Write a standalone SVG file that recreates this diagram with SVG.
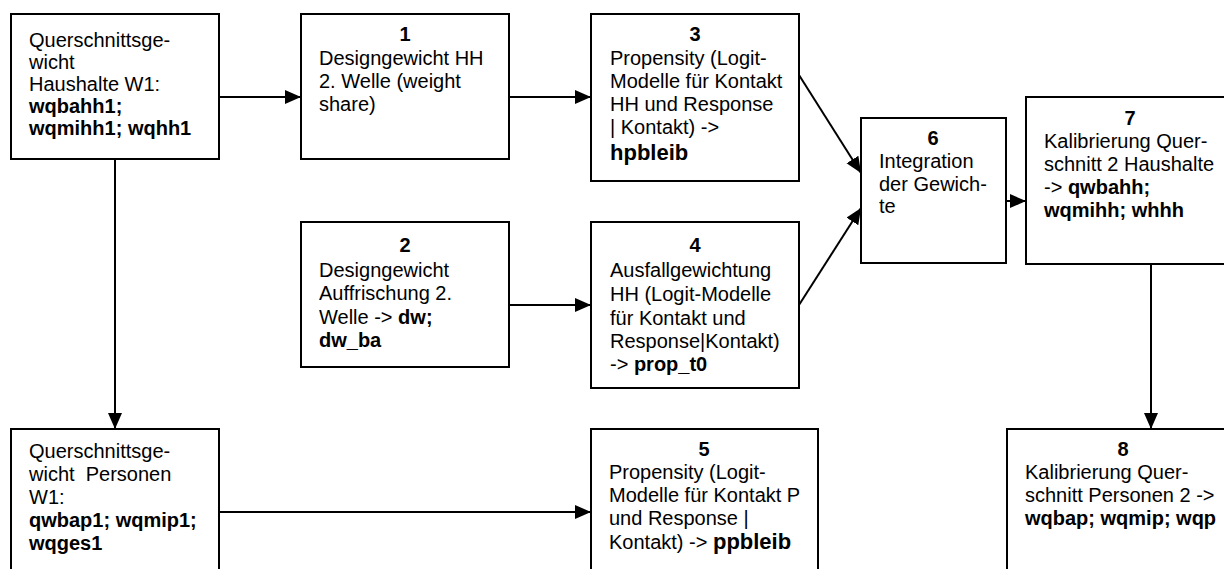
<svg xmlns="http://www.w3.org/2000/svg" width="1224" height="569" viewBox="0 0 1224 569">
<style>
.box{fill:#fff;stroke:#000;stroke-width:2}
text{font-family:"Liberation Sans",Arial,sans-serif;font-size:20px;fill:#000}
.n{font-weight:bold;text-anchor:middle}
.b{font-weight:bold}
.bb{font-weight:bold;font-size:22px}
.c{stroke:#000;stroke-width:2;fill:none;marker-end:url(#ah)}
</style>
<defs>
<marker id="ah" markerUnits="userSpaceOnUse" markerWidth="17" markerHeight="15" refX="16" refY="7" orient="auto">
<path d="M0,0 L16,7 L0,14 z" fill="#000"/>
</marker>
</defs>
<rect width="1224" height="569" fill="#fff"/>
<g id="connectors">
<line class="c" x1="219" y1="97" x2="301" y2="97"/>
<line class="c" x1="509" y1="97" x2="591" y2="97"/>
<line class="c" x1="799" y1="75" x2="861" y2="173"/>
<line class="c" x1="509" y1="305" x2="591" y2="305"/>
<line class="c" x1="799" y1="305" x2="861" y2="208"/>
<line class="c" x1="1006" y1="201" x2="1026" y2="201"/>
<line class="c" x1="115" y1="159" x2="115" y2="429"/>
<line class="c" x1="219" y1="512" x2="591" y2="512"/>
<line class="c" x1="1151" y1="264" x2="1151" y2="429"/>
</g>
<g id="nodeA">
<rect class="box" x="11" y="14" width="208" height="145"/>
<text x="29" y="47">Querschnittsge-</text>
<text x="29" y="69">wicht</text>
<text x="29" y="91">Haushalte W1:</text>
<text x="29" y="113" class="b">wqbahh1;</text>
<text x="29" y="135" class="b">wqmihh1; wqhh1</text>
</g>
<g id="node1">
<rect class="box" x="301" y="14" width="208" height="145"/>
<text x="405" y="41" class="n">1</text>
<text x="319" y="65">Designgewicht HH</text>
<text x="319" y="88">2. Welle (weight</text>
<text x="319" y="111">share)</text>
</g>
<g id="node3">
<rect class="box" x="591" y="14" width="208" height="167"/>
<text x="695" y="41" class="n">3</text>
<text x="610" y="65">Propensity (Logit-</text>
<text x="610" y="88">Modelle für Kontakt</text>
<text x="610" y="111">HH und Response</text>
<text x="610" y="134">| Kontakt) -&gt;</text>
<text x="610" y="160" class="bb">hpbleib</text>
</g>
<g id="node2">
<rect class="box" x="301" y="222" width="208" height="145"/>
<text x="405" y="252" class="n">2</text>
<text x="319" y="277">Designgewicht</text>
<text x="319" y="300">Auffrischung 2.</text>
<text x="319" y="324">Welle -&gt; <tspan class="b">dw;</tspan></text>
<text x="319" y="347" class="b">dw_ba</text>
</g>
<g id="node4">
<rect class="box" x="591" y="222" width="208" height="166"/>
<text x="695" y="252" class="n">4</text>
<text x="610" y="277">Ausfallgewichtung</text>
<text x="610" y="301">HH (Logit-Modelle</text>
<text x="610" y="325">für Kontakt und</text>
<text x="610" y="348">Response|Kontakt)</text>
<text x="610" y="371">-&gt; <tspan class="b">prop_t0</tspan></text>
</g>
<g id="node6">
<rect class="box" x="861" y="118" width="145" height="145"/>
<text x="933" y="145" class="n">6</text>
<text x="879" y="168">Integration</text>
<text x="879" y="191">der Gewich-</text>
<text x="879" y="213">te</text>
</g>
<g id="node7">
<rect class="box" x="1026" y="97" width="208" height="167"/>
<text x="1130" y="125" class="n">7</text>
<text x="1044" y="148">Kalibrierung Quer-</text>
<text x="1044" y="171">schnitt 2 Haushalte</text>
<text x="1044" y="194">-&gt; <tspan class="b">qwbahh;</tspan></text>
<text x="1044" y="217" class="b">wqmihh; whhh</text>
</g>
<g id="nodeB">
<rect class="box" x="11" y="429" width="208" height="160"/>
<text x="29" y="458">Querschnittsge-</text>
<text x="29" y="481" xml:space="preserve">wicht  Personen</text>
<text x="29" y="504">W1:</text>
<text x="29" y="527" class="b">qwbap1; wqmip1;</text>
<text x="29" y="550" class="b">wqges1</text>
</g>
<g id="node5">
<rect class="box" x="591" y="429" width="227" height="160"/>
<text x="704" y="456" class="n">5</text>
<text x="609" y="479">Propensity (Logit-</text>
<text x="609" y="502">Modelle für Kontakt P</text>
<text x="609" y="525">und Response |</text>
<text x="609" y="549">Kontakt) -&gt; <tspan class="bb">ppbleib</tspan></text>
</g>
<g id="node8">
<rect class="box" x="1007" y="429" width="232" height="160"/>
<text x="1123" y="456" class="n">8</text>
<text x="1025" y="479">Kalibrierung Quer-</text>
<text x="1025" y="502">schnitt Personen 2 -&gt;</text>
<text x="1025" y="525" class="b">wqbap; wqmip; wqp</text>
</g>
</svg>
